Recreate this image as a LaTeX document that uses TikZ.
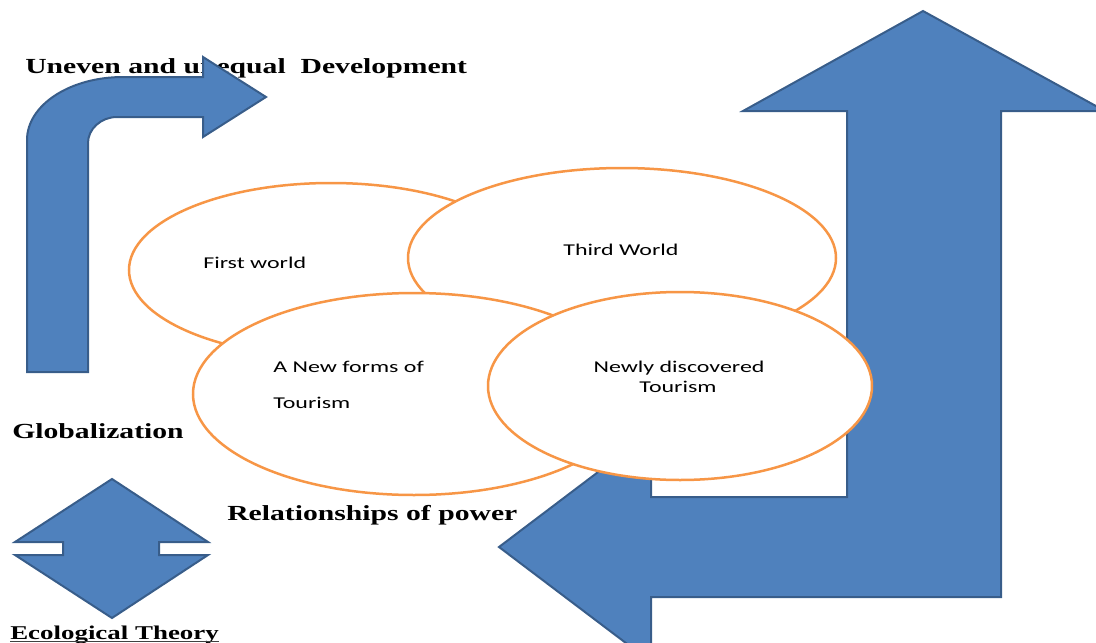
\documentclass[tikz,border=0pt]{standalone}
\usepackage{fontspec}
\setmainfont{Liberation Serif}
\newfontfamily\calibri{Carlito}
\usetikzlibrary{shapes.geometric}

\definecolor{arrowblue}{RGB}{79,129,189}
\definecolor{arrowedge}{RGB}{56,93,138}
\definecolor{ringorange}{RGB}{247,150,70}

\begin{document}
\begin{tikzpicture}[x=1pt,y=1pt,
                    bigarrow/.style={fill=arrowblue,draw=arrowedge,line width=2pt,line join=miter},
                    ring/.style={ellipse,draw=ringorange,fill=white,line width=2.5pt,inner sep=0pt},
                    heading/.style={font=\fontsize{21.5}{24}\selectfont\bfseries,inner sep=0pt,
                                    anchor=base west,xscale=1.38,transform shape},
                    ringtext/.style={font=\calibri\fontsize{16.5}{20}\selectfont,inner sep=0pt,
                                     anchor=base,xscale=1.45,transform shape}]
  \useasboundingbox (0,0) rectangle (1096,-643);
  \clip (0,0) rectangle (1096,-643);

  % headings under the arrows
  \node[heading] (uneven) at (25,-73) {Uneven and unequal\hspace{0.5em}Development};
  \node[heading] (global) at (12,-438) {Globalization};
  \node[heading] (power) at (227,-520) {Relationships of power};
  \node[heading,font=\fontsize{19.5}{22}\selectfont\bfseries] (eco) at (10,-639) {Ecological Theory};
  \draw[line width=1.5pt,black!75] ([yshift=-2.5pt]eco.base west) -- ([yshift=-2.5pt]eco.base east);

  % bent arrow, top left
  \draw[bigarrow] (27,-372) -- (27,-140) .. controls (27,-105) and (70,-77) .. (123,-77)
    -- (203,-77) -- (203,-57) -- (266,-97) -- (203,-137) -- (203,-117) -- (117,-117)
    .. controls (101,-117) and (88,-129) .. (88,-143) -- (88,-372) -- cycle;

  % up and down arrow, bottom left
  \draw[bigarrow] (112,-479) -- (208,-542) -- (159,-542) -- (159,-555) -- (208,-555)
    -- (112,-618) -- (15,-555) -- (63,-555) -- (63,-542) -- (15,-542) -- cycle;

  % big bent arrow, right
  \draw[bigarrow] (923,-11) -- (1105,-111) -- (1001,-111) -- (1001,-597) -- (651,-597)
    -- (651,-662) -- (499,-547) -- (651,-432) -- (651,-497) -- (847,-497) -- (847,-111)
    -- (743,-111) -- cycle;

  % the four worlds
  \node[ring,minimum width=404,minimum height=174] (first) at (331,-270) {};
  \node[ring,minimum width=428,minimum height=180] (third) at (622,-258) {};
  \node[ring,minimum width=442,minimum height=202] (forms) at (414,-394) {};
  \node[ring,minimum width=384,minimum height=188] (newly) at (680,-386) {};

  \node[ringtext,anchor=base west] (firsttxt) at (203,-268) {First world};
  \node[ringtext] (thirdtxt) at (621,-255) {Third World};
  \node[ringtext,anchor=base west] (formstxt) at (273,-372) {A New forms of};
  \node[ringtext,anchor=base west] (formstxt2) at (273,-408) {Tourism};
  \node[ringtext] (newlytxt) at (679,-372) {Newly discovered};
  \node[ringtext] (newlytxt2) at (678,-392) {Tourism};
\end{tikzpicture}
\end{document}
